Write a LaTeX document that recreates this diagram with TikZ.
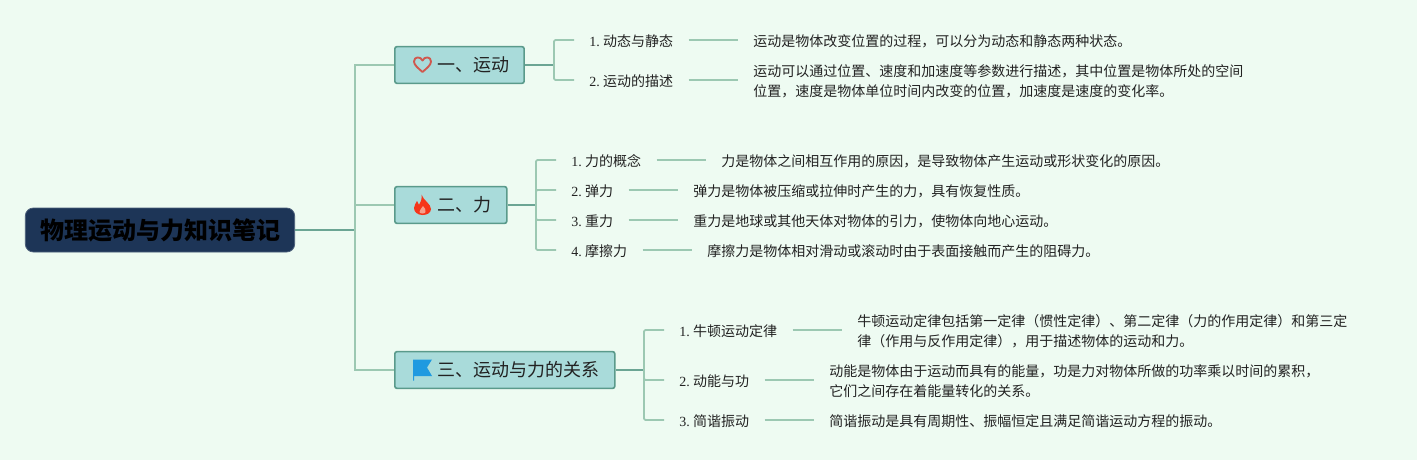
\documentclass[tikz,border=0pt]{standalone}
\usepackage{fontspec}
\setmainfont{Liberation Serif}
\newfontfamily\cjk{Noto Sans CJK SC}
\newcommand{\zh}[1]{\hspace{-0.9pt}{\cjk #1}\hspace{-1.6pt}}
\definecolor{bgc}{HTML}{EEFBF2}
\definecolor{rootc}{HTML}{1D3557}
\definecolor{branchc}{HTML}{A9DBDA}
\definecolor{edgec}{HTML}{5A9A8B}
\definecolor{thin}{HTML}{9CC8B2}
\definecolor{thick}{HTML}{6BA594}
\definecolor{txt}{HTML}{222222}
\definecolor{heartc}{HTML}{D0584E}
\definecolor{flamec}{HTML}{F5361A}
\definecolor{flamei}{HTML}{F6A08C}
\definecolor{flagc}{HTML}{1F9AE0}
\tikzset{
  x=0.75pt,y=-0.75pt,
  rootbox/.style={draw=rootc!80!white,fill=rootc,rounded corners=6pt,line width=0.6pt,minimum width=202pt,minimum height=33pt,inner sep=0pt,text=black,font=\cjk\fontsize{18}{20}\selectfont\bfseries},
  branchbox/.style={draw=edgec,fill=branchc,rounded corners=1.6pt,line width=1.2pt,minimum height=27.5pt,inner sep=0pt,anchor=west,text=txt,font=\cjk\fontsize{13.5}{16}\selectfont},
  leafbox/.style={anchor=west,inner xsep=11.25pt,inner ysep=0pt,text=txt,font=\fontsize{10.5}{15}\selectfont},
  descbox/.style={anchor=west,inner xsep=11.25pt,inner ysep=0pt,align=left,text=txt,font=\cjk\fontsize{10.5}{15}\selectfont},
  mainline/.style={draw=thick,line width=1.4pt},
  busline/.style={draw=thin,line width=1.4pt},
  linkline/.style={draw=thin,line width=1.3pt},
}
\begin{document}
\begin{tikzpicture}
\useasboundingbox (0,0) rectangle (1417,460);
\fill[bgc] (0,0) rectangle (1417,460);

\node[rootbox] (root) at (160,230) {物理运动与力知识笔记};

\coordinate (bus) at (355,230);
\coordinate (bus1) at (554,65);
\coordinate (bus2) at (536,205);
\coordinate (bus3) at (644,370);

\node[branchbox,minimum width=97pt,text width=97pt,align=left] (b1) at (394,65) {\hspace{32pt}\raisebox{-0.6pt}{一、运动}};
\node[branchbox,minimum width=84pt,text width=84pt,align=left] (b2) at (394,205) {\hspace{32pt}\raisebox{-0.6pt}{二、力}};
\node[branchbox,minimum width=165pt,text width=165pt,align=left] (b3) at (394,370) {\hspace{32pt}\raisebox{-0.6pt}{三、运动与力的关系}};

% heart
\draw[draw=heartc,line width=1.4pt,line join=round]
 (422.5,72) .. controls (418,68) and (414,65) .. (414,61.5)
 .. controls (414,56.5) and (420.5,56) .. (422.5,60.5)
 .. controls (424.5,56) and (431,56.5) .. (431,61.5)
 .. controls (431,65) and (427,68) .. (422.5,72) -- cycle;
% flame
\fill[flamec]
 (421.5,194.5) .. controls (423,200) and (431,204) .. (431,209)
 .. controls (431,213) and (427,215) .. (422.5,215)
 .. controls (417.5,215) and (414,212) .. (414,208)
 .. controls (414,205) and (416,203.5) .. (417,201)
 .. controls (418,203) and (418.5,204) .. (419,205)
 .. controls (421,202) and (422,199) .. (421.5,194.5) -- cycle;
\fill[flamei]
 (423,206) .. controls (424.5,208) and (426.5,210) .. (425.5,212)
 .. controls (425,214) and (420,214) .. (419.5,212)
 .. controls (419,210) and (422,208.5) .. (423,206) -- cycle;
% flag
\fill[flagc]
 (413,359.5) -- (432,359.5) -- (427,367.5) -- (432,376) -- (414.2,376) -- (414.2,380.5) -- (413,380.5) -- cycle;

\node[leafbox] (l11) at (574,41) {1. \zh{动态与静态}};
\node[leafbox] (l12) at (574,81) {2. \zh{运动的描述}};
\node[descbox] (d11) at (738,41) {运动是物体改变位置的过程，可以分为动态和静态两种状态。};
\node[descbox] (d12) at (738,81) {运动可以通过位置、速度和加速度等参数进行描述，其中位置是物体所处的空间\\位置，速度是物体单位时间内改变的位置，加速度是速度的变化率。};

\node[leafbox] (l21) at (556,161) {1. \zh{力的概念}};
\node[leafbox] (l22) at (556,191) {2. \zh{弹力}};
\node[leafbox] (l23) at (556,221) {3. \zh{重力}};
\node[leafbox] (l24) at (556,251) {4. \zh{摩擦力}};
\node[descbox] (d21) at (706,161) {力是物体之间相互作用的原因，是导致物体产生运动或形状变化的原因。};
\node[descbox] (d22) at (678,191) {弹力是物体被压缩或拉伸时产生的力，具有恢复性质。};
\node[descbox] (d23) at (678,221) {重力是地球或其他天体对物体的引力，使物体向地心运动。};
\node[descbox] (d24) at (692,251) {摩擦力是物体相对滑动或滚动时由于表面接触而产生的阻碍力。};

\node[leafbox] (l31) at (664,331) {1. \zh{牛顿运动定律}};
\node[leafbox] (l32) at (664,381) {2. \zh{动能与功}};
\node[leafbox] (l33) at (664,421) {3. \zh{简谐振动}};
\node[descbox] (d31) at (842,331) {牛顿运动定律包括第一定律（惯性定律）、第二定律（力的作用定律）和第三定\\律（作用与反作用定律），用于描述物体的运动和力。};
\node[descbox] (d32) at (814,381) {动能是物体由于运动而具有的能量，功是力对物体所做的功率乘以时间的累积，\\它们之间存在着能量转化的关系。};
\node[descbox] (d33) at (814,421) {简谐振动是具有周期性、振幅恒定且满足简谐运动方程的振动。};

\draw[mainline] (root.east) -- (bus);
\draw[busline] (bus) |- (b1.west);
\draw[busline] (bus) |- (b2.west);
\draw[busline] (bus) |- (b3.west);

\draw[mainline] (b1.east) -- (bus1);
\draw[mainline] (b2.east) -- (bus2);
\draw[mainline] (b3.east) -- (bus3);

\foreach \l in {l11,l12} \draw[busline,rounded corners=1pt] (bus1) |- ([yshift=0.75pt]\l.west);
\foreach \l in {l21,l22,l23,l24} \draw[busline,rounded corners=1pt] (bus2) |- ([yshift=0.75pt]\l.west);
\foreach \l in {l31,l32,l33} \draw[busline,rounded corners=1pt] (bus3) |- ([yshift=0.75pt]\l.west);

\foreach \a/\b in {l11/d11,l12/d12,l21/d21,l22/d22,l23/d23,l24/d24,l31/d31,l32/d32,l33/d33}
  \draw[linkline] ([yshift=0.75pt]\a.east) -- ([yshift=0.75pt]\b.west);
\end{tikzpicture}
\end{document}
